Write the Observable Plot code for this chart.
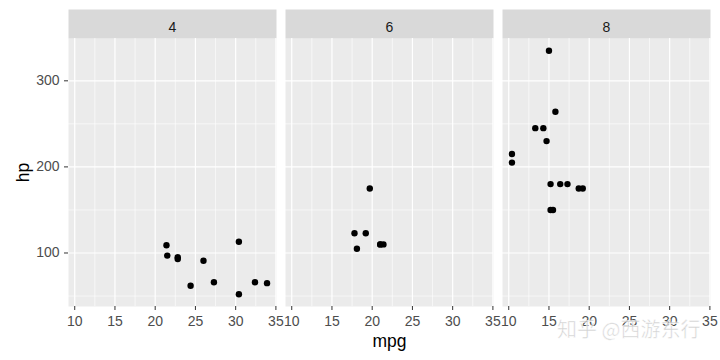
<!DOCTYPE html>
<html>
<head>
<meta charset="utf-8">
<script src="https://cdn.jsdelivr.net/npm/d3@7"></script>
<script src="https://cdn.jsdelivr.net/npm/@observablehq/plot@0.6"></script>
<style>
  body { margin: 0; background: #fff; }
  #wrap { position: relative; width: 720px; height: 360px; }
  #wm { position: absolute; left: 557px; top: 314px; font-family: "Noto Sans CJK SC", sans-serif; font-size: 20px;
        color: rgba(190,190,190,0.7); -webkit-text-stroke: 0.6px rgba(255,255,255,0.9); white-space: nowrap; pointer-events: none; }
</style>
</head>
<body>
<div id="wrap"><div id="chart"></div><div id="wm">知乎 @西游东行</div></div>
<script>
const cylFacets = ["4", "6", "8"];
const cyl = [6,6,4,6,8,6,8,4,4,6,6,8,8,8,8,8,8,4,4,4,4,8,8,8,8,4,4,4,8,6,8,4];
const mpg = [21.0,21.0,22.8,21.4,18.7,18.1,14.3,24.4,22.8,19.2,17.8,16.4,17.3,15.2,10.4,10.4,14.7,32.4,30.4,33.9,21.5,15.5,15.2,13.3,19.2,27.3,26.0,30.4,15.8,19.7,15.0,21.4];
const hp  = [110,110,93,110,175,105,245,62,95,123,123,180,180,180,205,215,230,66,52,65,97,150,150,245,175,66,91,113,264,175,335,109];
const xTicks = [10, 15, 20, 25, 30, 35];
const xMinor = [12.5, 17.5, 22.5, 27.5, 32.5];
const yTicks = [100, 200, 300];
const yMinor = [50, 150, 250];

const cars = mpg.map((m, i) => ({mpg: m, hp: hp[i], cyl: String(cyl[i])}));

const font = "'Liberation Sans', Arial, sans-serif";
const chart = Plot.plot({
  width: 720,
  height: 360,
  marginLeft: 67,
  marginRight: 9,
  marginTop: 38,
  marginBottom: 54,
  style: {fontFamily: font, background: "#fff"},
  fx: {domain: cylFacets, paddingInner: 0.04, paddingOuter: 0, axis: null},
  x: {domain: [9.225, 35.075]},
  y: {domain: [37.85, 349.15]},
  marks: [
    Plot.frame({fill: "#EBEBEB", stroke: null}),
    Plot.frame({fill: "#D9D9D9", stroke: null, insetTop: -29, insetBottom: 268}),
    Plot.axisFx({anchor: "top", tickSize: 0, tickPadding: 7, fontSize: 14, color: "#1A1A1A", label: null, ariaLabel: "strip"}),
    Plot.gridX(xMinor, {stroke: "#fff", strokeOpacity: 1, strokeWidth: 0.6}),
    Plot.gridY(yMinor, {stroke: "#fff", strokeOpacity: 1, strokeWidth: 0.6}),
    Plot.gridX(xTicks, {stroke: "#fff", strokeOpacity: 1, strokeWidth: 1.2}),
    Plot.gridY(yTicks, {stroke: "#fff", strokeOpacity: 1, strokeWidth: 1.2}),
    Plot.axisX({ticks: xTicks, tickSize: 4, tickPadding: 6, fontSize: 14, color: "#4D4D4D", stroke: "#333333", label: null}),
    Plot.axisY({ticks: yTicks, tickSize: 4, tickPadding: 5, fontSize: 14, color: "#4D4D4D", stroke: "#333333",
      label: "hp", labelAnchor: "center", labelArrow: "none", labelOffset: 52}),
    Plot.axisFx({anchor: "bottom", tickSize: 0, tickFormat: () => "", label: "mpg", labelAnchor: "center", labelArrow: "none", labelOffset: 40}),
    Plot.dot(cars, {x: "mpg", y: "hp", fx: "cyl", r: 3.2, fill: "#000", stroke: null})
  ]
});
chart.querySelectorAll("[aria-label='y-axis label'] text, [aria-label='fx-axis label'] text").forEach(t => {
  t.setAttribute("font-size", "17.5"); t.style.fontSize = "17.5px"; t.setAttribute("fill", "#000");
});
chart.querySelectorAll("[aria-label='strip']").forEach(g => {
  g.setAttribute("font-size", "14.5"); g.style.fontSize = "14.5px";
  g.querySelectorAll("text").forEach(t => { t.setAttribute("font-size", "14.5"); t.style.fontSize = "14.5px"; });
});
document.getElementById("chart").appendChild(chart);
</script>
</body>
</html>
